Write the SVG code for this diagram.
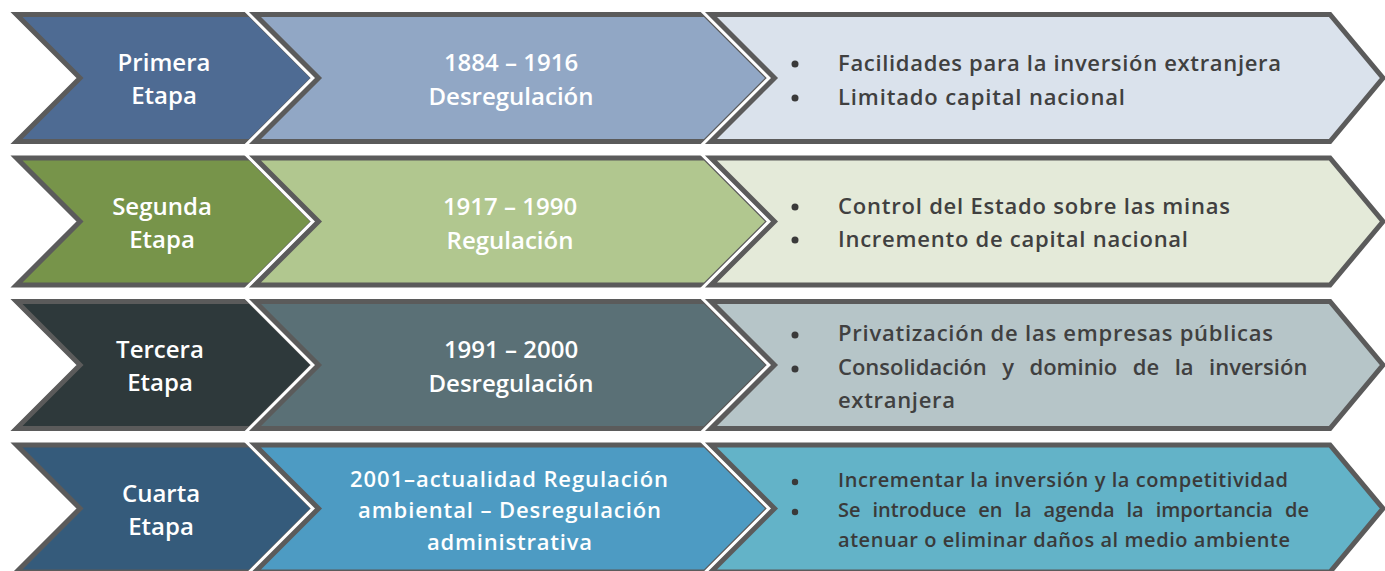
<svg xmlns="http://www.w3.org/2000/svg" width="1385" height="571" viewBox="0 0 1385 571">
<style>
.halo{fill:#ffffff;stroke:#ffffff;stroke-width:11;stroke-linejoin:miter}
.shape{stroke:#5b5b5b;stroke-width:5;stroke-linejoin:miter}
.lbl{font-family:"Open Sans","Noto Sans",sans-serif;font-weight:600;fill:#ffffff;text-anchor:middle}
.big{font-size:24px}
.mid{font-size:22px}
.blt{font-family:"Open Sans","Noto Sans",sans-serif;font-weight:600;fill:#404040;font-size:22px}
.blt4{font-family:"Open Sans","Noto Sans",sans-serif;font-weight:600;fill:#3a3a3a;font-size:20px}
.dot{fill:#3a3a3a}
</style>
<rect width="1385" height="571" fill="#ffffff"/>

<!-- Row 1 -->
<g id="r1c1">
<polygon class="halo" points="16.5,14.5 250,14.5 313.5,78 250,141.5 16.5,141.5 80,78"/>
<polygon class="shape" fill="#4e6b93" points="16.5,14.5 250,14.5 313.5,78 250,141.5 16.5,141.5 80,78"/>
<text class="lbl big" x="164" y="71">Primera</text>
<text class="lbl big" x="164" y="104">Etapa</text>
</g>
<g id="r1c2">
<polygon class="halo" points="255,14.5 705,14.5 768.5,78 705,141.5 255,141.5 318.5,78"/>
<polygon class="shape" fill="#91a7c5" points="255,14.5 705,14.5 768.5,78 705,141.5 255,141.5 318.5,78"/>
<text class="lbl big" x="511" y="71">1884 – 1916</text>
<text class="lbl big" x="511" y="105">Desregulación</text>
</g>
<g id="r1c3">
<polygon class="halo" points="711,14.5 1330,14.5 1383,78 1330,141.5 711,141.5 774.5,78"/>
<polygon class="shape" fill="#dae2ec" points="711,14.5 1330,14.5 1383,78 1330,141.5 711,141.5 774.5,78"/>
<circle class="dot" cx="795" cy="64" r="3.5"/>
<circle class="dot" cx="795" cy="98" r="3.5"/>
<text class="blt" x="838" y="71" textLength="443" lengthAdjust="spacing">Facilidades para la inversión extranjera</text>
<text class="blt" x="838" y="105" textLength="287" lengthAdjust="spacing">Limitado capital nacional</text>
</g>

<!-- Row 2 -->
<g id="r2c1">
<polygon class="halo" points="16.5,158 250,158 313.5,221.5 250,285 16.5,285 80,221.5"/>
<polygon class="shape" fill="#77944a" points="16.5,158 250,158 313.5,221.5 250,285 16.5,285 80,221.5"/>
<text class="lbl big" x="162" y="214.5">Segunda</text>
<text class="lbl big" x="162" y="247.5">Etapa</text>
</g>
<g id="r2c2">
<polygon class="halo" points="255,158 705,158 768.5,221.5 705,285 255,285 318.5,221.5"/>
<polygon class="shape" fill="#b1c78f" points="255,158 705,158 768.5,221.5 705,285 255,285 318.5,221.5"/>
<text class="lbl big" x="510" y="214.5">1917 – 1990</text>
<text class="lbl big" x="510" y="248.5">Regulación</text>
</g>
<g id="r2c3">
<polygon class="halo" points="711,158 1330,158 1383,221.5 1330,285 711,285 774.5,221.5"/>
<polygon class="shape" fill="#e4ead9" points="711,158 1330,158 1383,221.5 1330,285 711,285 774.5,221.5"/>
<circle class="dot" cx="795" cy="207" r="3.5"/>
<circle class="dot" cx="795" cy="240" r="3.5"/>
<text class="blt" x="838" y="214" textLength="392" lengthAdjust="spacing">Control del Estado sobre las minas</text>
<text class="blt" x="838" y="247" textLength="350" lengthAdjust="spacing">Incremento de capital nacional</text>
</g>

<!-- Row 3 -->
<g id="r3c1">
<polygon class="halo" points="16.5,301.5 250,301.5 313.5,365 250,428.5 16.5,428.5 80,365"/>
<polygon class="shape" fill="#2e393b" points="16.5,301.5 250,301.5 313.5,365 250,428.5 16.5,428.5 80,365"/>
<text class="lbl big" x="160" y="358">Tercera</text>
<text class="lbl big" x="160" y="391">Etapa</text>
</g>
<g id="r3c2">
<polygon class="halo" points="255,301.5 705,301.5 768.5,365 705,428.5 255,428.5 318.5,365"/>
<polygon class="shape" fill="#5a7076" points="255,301.5 705,301.5 768.5,365 705,428.5 255,428.5 318.5,365"/>
<text class="lbl big" x="511" y="358">1991 – 2000</text>
<text class="lbl big" x="511" y="392">Desregulación</text>
</g>
<g id="r3c3">
<polygon class="halo" points="711,301.5 1330,301.5 1383,365 1330,428.5 711,428.5 774.5,365"/>
<polygon class="shape" fill="#b6c5c8" points="711,301.5 1330,301.5 1383,365 1330,428.5 711,428.5 774.5,365"/>
<circle class="dot" cx="795" cy="335" r="3.5"/>
<circle class="dot" cx="795" cy="369" r="3.5"/>
<text class="blt" x="838" y="341" textLength="435" lengthAdjust="spacing">Privatización de las empresas públicas</text>
<text class="blt" x="838" y="375" word-spacing="9.8">Consolidación y dominio de la inversión</text>
<text class="blt" x="838" y="408" textLength="117" lengthAdjust="spacing">extranjera</text>
</g>

<!-- Row 4 -->
<g id="r4c1">
<polygon class="halo" points="16.5,445 250,445 313.5,508.5 250,572 16.5,572 80,508.5"/>
<polygon class="shape" fill="#355b7b" points="16.5,445 250,445 313.5,508.5 250,572 16.5,572 80,508.5"/>
<text class="lbl big" x="161" y="502">Cuarta</text>
<text class="lbl big" x="161" y="535">Etapa</text>
</g>
<g id="r4c2">
<polygon class="halo" points="255,445 705,445 768.5,508.5 705,572 255,572 318.5,508.5"/>
<polygon class="shape" fill="#4d9bc3" points="255,445 705,445 768.5,508.5 705,572 255,572 318.5,508.5"/>
<text class="lbl mid" x="509" y="487" textLength="318" lengthAdjust="spacing">2001–actualidad Regulación</text>
<text class="lbl mid" x="509.5" y="518" textLength="303" lengthAdjust="spacing">ambiental – Desregulación</text>
<text class="lbl mid" x="509.5" y="550" textLength="165" lengthAdjust="spacing">administrativa</text>
</g>
<g id="r4c3">
<polygon class="halo" points="711,445 1330,445 1383,508.5 1330,572 711,572 774.5,508.5"/>
<polygon class="shape" fill="#63b3c8" points="711,445 1330,445 1383,508.5 1330,572 711,572 774.5,508.5"/>
<circle class="dot" cx="795" cy="482" r="3.2"/>
<circle class="dot" cx="795" cy="512" r="3.2"/>
<text class="blt4" x="838" y="487" textLength="450" lengthAdjust="spacing">Incrementar la inversión y la competitividad</text>
<text class="blt4" x="838" y="517" word-spacing="6.8">Se introduce en la agenda la importancia de</text>
<text class="blt4" x="838" y="547" textLength="452" lengthAdjust="spacing">atenuar o eliminar daños al medio ambiente</text>
</g>
</svg>
